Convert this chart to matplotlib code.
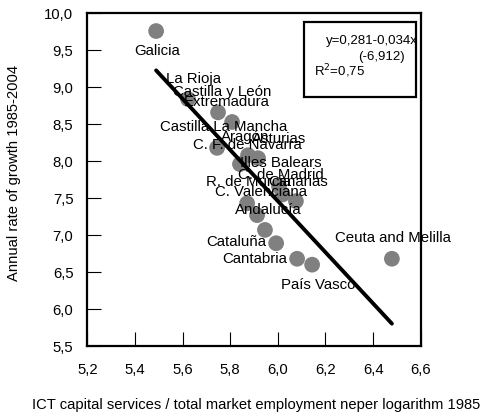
import matplotlib
matplotlib.use("Agg")
import matplotlib.pyplot as plt
import numpy as np

regions = ["Galicia", "La Rioja", "Castilla y León", "Extremadura", "Castilla La Mancha",
           "C. F. de Navarra", "Aragón", "Asturias", "Illes Balears", "C. de Madrid",
           "Canarias", "R. de Murcia", "C. Valenciana", "Andalucía", "Cataluña",
           "Cantabria", "País Vasco", "Ceuta and Melilla"]
ict = [5.489, 5.623, 5.749, 5.808, 5.745, 5.841, 5.875, 5.917, 6.005, 6.020,
       6.076, 5.871, 5.913, 5.946, 5.993, 6.081, 6.144, 6.479]
growth = [9.76, 8.84, 8.66, 8.53, 8.18, 7.96, 8.08, 8.04, 7.66, 7.55,
          7.46, 7.43, 7.27, 7.07, 6.89, 6.68, 6.60, 6.68]
line_intercept = 28.22
line_slope = -3.46
xticks = [5.2, 5.4, 5.6, 5.8, 6.0, 6.2, 6.4, 6.6]
yticks = [5.5, 6.0, 6.5, 7.0, 7.5, 8.0, 8.5, 9.0, 9.5, 10.0]

# label offsets (pixels, dx right, dy down) relative to points
label_offsets = [(1, 20), (5, -20), (4, -20), (-5, -20), (7, -21),
                 (7, -19), (-3, -18), (21, -19), (2, -23), (-2, -19),
                 (2, -19), (1, -21), (4, -23), (3, -20), (-40, -1),
                 (-42, 0), (6, 20), (1, -21)]

plt.rcParams['font.family'] = ['Liberation Sans', 'DejaVu Sans']
fig = plt.figure(figsize=(4.85, 4.18), dpi=100)
ax = fig.add_axes([87.3/485, 1-346/418, (420.7-87.3)/485, (346-13.3)/418])

ax.scatter(ict, growth, s=128, color='#808080', edgecolors='none', zorder=2)
for name, x, y, (dx, dy) in zip(regions, ict, growth, label_offsets):
    ax.annotate(name, (x, y), xytext=(dx*0.72, -dy*0.72), textcoords='offset points',
                ha='center', va='center', fontsize=10.8, color='black', zorder=3)

xl = np.array([min(ict), max(ict)])
ax.plot(xl, line_intercept + line_slope*xl, color='black', lw=2.8, zorder=4,
        solid_capstyle='round')

ax.set_xlim(5.2, 6.6)
ax.set_ylim(5.5, 10.0)
ax.set_xticks(xticks)
ax.set_yticks(yticks)
ax.set_xticklabels([f"{v:.1f}".replace('.', ',') for v in xticks])
ax.set_yticklabels([f"{v:.1f}".replace('.', ',') for v in yticks])
ax.tick_params(direction='in', length=10, width=0.8, labelsize=10.7)
ax.tick_params(axis='x', pad=12)
ax.tick_params(axis='y', pad=10)
for sp in ax.spines.values():
    sp.set_linewidth(1.6)

fig.text(14/485, 1-173/418, "Annual rate of growth 1985-2004", rotation=90,
         ha='center', va='center', fontsize=10.6)
fig.text(256/485, 1-405/418, "ICT capital services / total market employment neper logarithm 1985",
         ha='center', va='center', fontsize=10.6)

# equation box
box = plt.Rectangle((304/485, 1-96.7/418), (416-304)/485, (96.7-22.3)/418,
                    transform=fig.transFigure, fill=False, lw=1.6, edgecolor='black', zorder=5)
fig.add_artist(box)
fig.text(418/485, 1-41/418, "y=0,281-0,034x", ha='right', va='center', fontsize=9.5)
fig.text(405/485, 1-57/418, "(-6,912)", ha='right', va='center', fontsize=9.5)
fig.text(314/485, 1-71/418, "R$^2$=0,75", ha='left', va='center', fontsize=9.5)

fig.savefig("out.png", dpi=100)
